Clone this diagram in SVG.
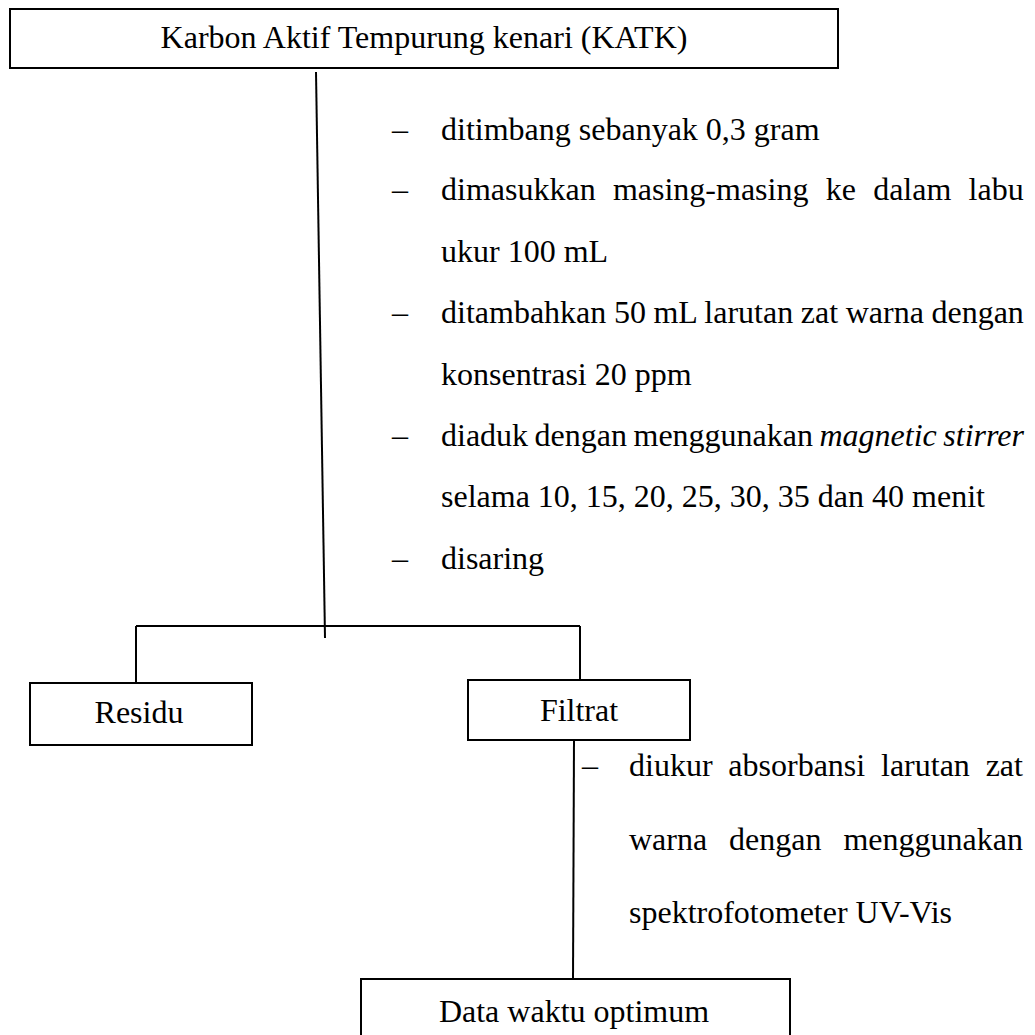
<svg xmlns="http://www.w3.org/2000/svg" width="1035" height="1035" viewBox="0 0 1035 1035">
<style>
.box{fill:#fff;stroke:#000;stroke-width:2}
.ln{fill:none;stroke:#000;stroke-width:2}
text{font-family:"Liberation Serif","Times New Roman",serif;font-size:32px;fill:#000}
.c{text-anchor:middle}
</style>
<rect width="1035" height="1035" fill="#fff"/>
<g id="connectors">
<line class="ln" x1="316" y1="72" x2="325" y2="638"/>
<line class="ln" x1="136" y1="626" x2="580" y2="626"/>
<line class="ln" x1="136" y1="626" x2="136" y2="683"/>
<line class="ln" x1="580" y1="626" x2="580" y2="680"/>
<line class="ln" x1="574" y1="740" x2="573" y2="979"/>
</g>
<g id="node-katk">
<rect class="box" x="10" y="9" width="828" height="59"/>
<text class="c" x="424" y="48">Karbon Aktif Tempurung kenari (KATK)</text>
</g>
<g id="steps-1">
<text x="392" y="140">–</text><text x="441" y="140">ditimbang sebanyak 0,3 gram</text>
<text x="392" y="200">–</text><text x="441" y="200" word-spacing="9.25">dimasukkan masing-masing ke dalam labu</text>
<text x="441" y="262">ukur 100 mL</text>
<text x="392" y="323">–</text><text x="441" y="323" word-spacing="-0.4">ditambahkan 50 mL larutan zat warna dengan</text>
<text x="441" y="385">konsentrasi 20 ppm</text>
<text x="392" y="446">–</text><text x="441" y="446" word-spacing="-1.5">diaduk dengan menggunakan <tspan font-style="italic">magnetic stirrer</tspan></text>
<text x="441" y="507">selama 10, 15, 20, 25, 30, 35 dan 40 menit</text>
<text x="392" y="569">–</text><text x="441" y="569">disaring</text>
</g>
<g id="node-residu">
<rect class="box" x="30" y="683" width="222" height="62"/>
<text class="c" x="139" y="723">Residu</text>
</g>
<g id="node-filtrat">
<rect class="box" x="468" y="680" width="222" height="60"/>
<text class="c" x="579" y="721">Filtrat</text>
</g>
<g id="steps-2">
<text x="582" y="776">–</text><text x="629" y="776" word-spacing="7.8">diukur absorbansi larutan zat</text>
<text x="629" y="850" word-spacing="13.9">warna dengan menggunakan</text>
<text x="629" y="923">spektrofotometer UV-Vis</text>
</g>
<g id="node-data">
<rect class="box" x="361" y="979" width="429" height="70"/>
<text class="c" x="574" y="1022">Data waktu optimum</text>
</g>
</svg>
